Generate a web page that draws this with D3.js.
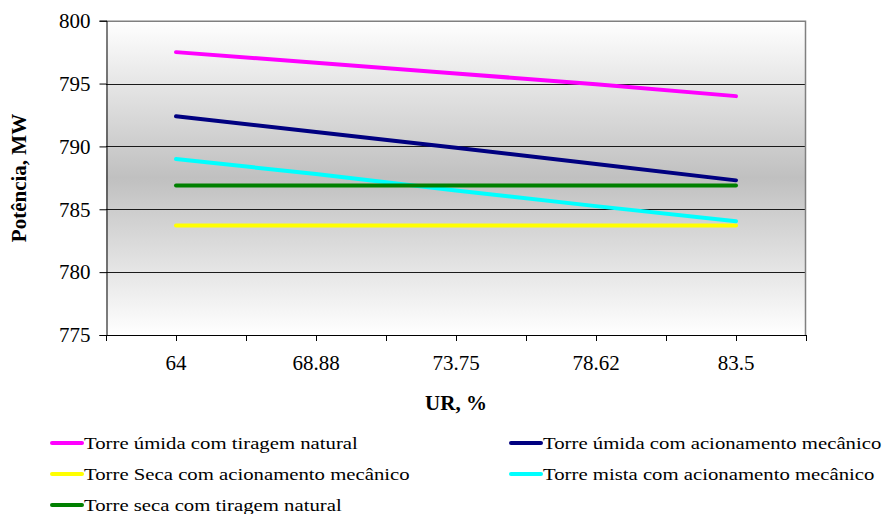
<!DOCTYPE html>
<html>
<head>
<meta charset="utf-8">
<script src="https://cdn.jsdelivr.net/npm/d3@7/dist/d3.min.js"></script>
<style>
  html, body { margin: 0; padding: 0; background: #fff; }
  svg { display: block; }
  text { font-family: "Liberation Serif", "Times New Roman", serif; fill: #000; }
</style>
</head>
<body>
<svg id="chart" width="882" height="514"></svg>
<script>
// ---- data ----
const categories = ["64", "68.88", "73.75", "78.62", "83.5"];
const yTickValues = [775, 780, 785, 790, 795, 800];

const umidaNatural   = [797.5, 796.65, 795.8, 794.95, 794.0];
const umidaMecanico  = [792.4, 791.15, 789.9, 788.6, 787.3];
const secaMecanico   = [783.7, 783.7, 783.7, 783.7, 783.7];
const mistaMecanico  = [789.0, 787.8, 786.5, 785.25, 784.05];
const secaNatural    = [786.9, 786.9, 786.9, 786.9, 786.9];

const seriesNames = [
  "Torre úmida com tiragem natural",
  "Torre úmida com acionamento mecânico",
  "Torre Seca com acionamento mecânico",
  "Torre mista com acionamento mecânico",
  "Torre seca com tiragem natural"
];
const seriesColors = ["#ff00ff", "#000080", "#ffff00", "#00ffff", "#008000"];
const seriesValues = [umidaNatural, umidaMecanico, secaMecanico, mistaMecanico, secaNatural];

const xTitle = "UR, %";
const yTitle = "Potência, MW";

// ---- layout ----
const svg = d3.select("#chart");
const plot = { left: 106, right: 806, top: 20.7, bottom: 335 };

const x = d3.scaleBand().domain(categories).range([plot.left, plot.right]).padding(0);
const y = d3.scaleLinear().domain([775, 800]).range([plot.bottom, plot.top]);

// background gradient
const defs = svg.append("defs");
const grad = defs.append("linearGradient").attr("id", "bg")
  .attr("x1", 0).attr("y1", 0).attr("x2", 0).attr("y2", 1);
grad.append("stop").attr("offset", "0%").attr("stop-color", "#ffffff");
grad.append("stop").attr("offset", "50%").attr("stop-color", "#c0c0c0");
grad.append("stop").attr("offset", "100%").attr("stop-color", "#ffffff");

svg.append("rect")
  .attr("x", plot.left).attr("y", plot.top)
  .attr("width", plot.right - plot.left).attr("height", plot.bottom - plot.top)
  .attr("fill", "url(#bg)");

// gridlines
svg.append("g").selectAll("line")
  .data(yTickValues.filter(v => v > 775 && v < 800))
  .join("line")
  .attr("x1", plot.left).attr("x2", plot.right)
  .attr("y1", d => Math.round(y(d)) + 0.5).attr("y2", d => Math.round(y(d)) + 0.5)
  .attr("stroke", "#1a1a1a").attr("stroke-width", 1);

// plot border (top & right gray)
svg.append("path")
  .attr("d", `M${plot.left},${plot.top + 0.5}H${plot.right - 0.5}V${plot.bottom}`)
  .attr("fill", "none").attr("stroke", "#808080").attr("stroke-width", 1.5);

// y axis
const yAxis = d3.axisLeft(y).tickValues(yTickValues).tickSize(7).tickPadding(9).tickFormat(d3.format("d"));
const gy = svg.append("g").attr("transform", `translate(${plot.left + 0.5},0)`).call(yAxis);
gy.select(".domain").attr("stroke", "#000");
gy.selectAll(".tick line").attr("stroke", "#000");
gy.selectAll(".tick text").style("font-size", "21px").style("font-family", "Liberation Serif, serif").attr("fill", "#000");

// x axis: ticks at band edges and centers
const xEdgeTicks = [];
categories.forEach(c => { xEdgeTicks.push(x(c)); xEdgeTicks.push(x(c) + x.bandwidth() / 2); });
xEdgeTicks.push(plot.right);
const gx = svg.append("g");
gx.append("line")
  .attr("x1", plot.left).attr("x2", plot.right)
  .attr("y1", plot.bottom + 0.5).attr("y2", plot.bottom + 0.5)
  .attr("stroke", "#000");
gx.selectAll("line.tk").data(xEdgeTicks).join("line").attr("class", "tk")
  .attr("x1", d => Math.round(d) + 0.5).attr("x2", d => Math.round(d) + 0.5)
  .attr("y1", plot.bottom).attr("y2", plot.bottom + 6)
  .attr("stroke", "#000");
gx.selectAll("text").data(categories).join("text")
  .attr("x", d => x(d) + x.bandwidth() / 2)
  .attr("y", 370)
  .attr("text-anchor", "middle")
  .style("font-size", "21px")
  .text(d => d);

// axis titles
svg.append("text")
  .attr("x", 456).attr("y", 410)
  .attr("text-anchor", "middle")
  .style("font-size", "21px").style("font-weight", "bold")
  .text(xTitle);
svg.append("text")
  .attr("transform", `translate(26,178) rotate(-90)`)
  .attr("text-anchor", "middle")
  .style("font-size", "21px").style("font-weight", "bold")
  .text(yTitle);

// series lines
const line = d3.line()
  .x((d, i) => x(categories[i]) + x.bandwidth() / 2)
  .y(d => y(d));
svg.append("g").selectAll("path")
  .data(seriesValues)
  .join("path")
  .attr("d", d => line(d))
  .attr("fill", "none")
  .attr("stroke", (d, i) => seriesColors[i])
  .attr("stroke-width", 4)
  .attr("stroke-linecap", "round")
  .attr("stroke-linejoin", "round");

// legend
const legendPos = [
  { x: 52, y: 443 }, { x: 511, y: 443 },
  { x: 52, y: 474 }, { x: 511, y: 474 },
  { x: 52, y: 505 }
];
const lg = svg.append("g").selectAll("g")
  .data(seriesNames)
  .join("g")
  .attr("transform", (d, i) => `translate(${legendPos[i].x},${legendPos[i].y})`);
lg.append("line")
  .attr("x1", 0).attr("x2", 30).attr("y1", 0).attr("y2", 0)
  .attr("stroke", (d, i) => seriesColors[i])
  .attr("stroke-width", 4).attr("stroke-linecap", "round");
lg.append("text")
  .attr("x", 32).attr("y", 6)
  .style("font-size", "17px")
  .text(d => d)
  .each(function () {
    const w = this.getComputedTextLength();
    d3.select(this).attr("textLength", w * 1.22).attr("lengthAdjust", "spacingAndGlyphs");
  });
</script>
</body>
</html>
